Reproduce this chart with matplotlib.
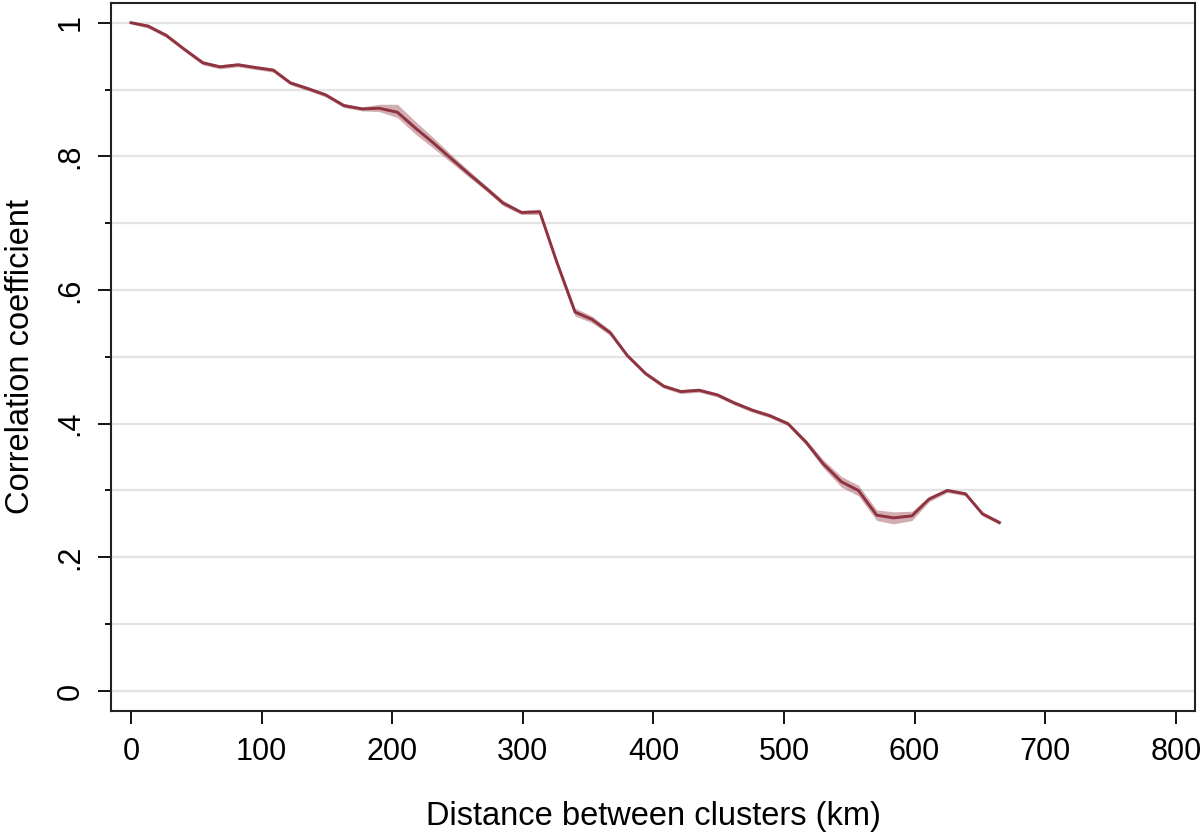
import matplotlib
matplotlib.use("Agg")
import matplotlib.pyplot as plt
from matplotlib.ticker import MultipleLocator, FuncFormatter

plt.rcParams['font.family'] = ['Liberation Sans', 'DejaVu Sans']

# distance bins (km) and correlation coefficient
distance = [0, 13, 27, 41, 55, 68, 82, 95, 109, 122, 136, 149, 163, 177, 190,
            204, 218, 231, 245, 258, 272, 285, 299, 313, 326, 340, 353, 367,
            380, 394, 408, 421, 435, 449, 462, 476, 489, 503, 517, 530, 544,
            557, 571, 584, 598, 611, 625, 639, 652, 665]
corr = [1.000, 0.995, 0.981, 0.960, 0.940, 0.934, 0.937, 0.933, 0.929, 0.910,
        0.901, 0.892, 0.876, 0.871, 0.872, 0.866, 0.842, 0.821, 0.797, 0.775,
        0.752, 0.730, 0.716, 0.717, 0.642, 0.567, 0.556, 0.536, 0.502, 0.475,
        0.456, 0.448, 0.450, 0.443, 0.431, 0.420, 0.412, 0.400, 0.372, 0.340,
        0.313, 0.300, 0.263, 0.259, 0.262, 0.287, 0.300, 0.295, 0.265, 0.252]
# confidence band
ci_lo = [0.998, 0.992, 0.978, 0.957, 0.937, 0.931, 0.934, 0.930, 0.926, 0.907,
         0.898, 0.889, 0.873, 0.868, 0.867, 0.858, 0.833, 0.813, 0.791, 0.770,
         0.748, 0.726, 0.713, 0.713, 0.637, 0.561, 0.551, 0.532, 0.499, 0.472,
         0.453, 0.445, 0.447, 0.440, 0.428, 0.417, 0.409, 0.397, 0.368, 0.334,
         0.305, 0.292, 0.255, 0.250, 0.255, 0.283, 0.297, 0.292, 0.262, 0.249]
ci_hi = [1.002, 0.998, 0.984, 0.963, 0.943, 0.937, 0.940, 0.936, 0.932, 0.913,
         0.904, 0.895, 0.879, 0.874, 0.878, 0.878, 0.852, 0.829, 0.803, 0.780,
         0.756, 0.734, 0.719, 0.721, 0.647, 0.573, 0.561, 0.540, 0.505, 0.478,
         0.459, 0.451, 0.453, 0.446, 0.434, 0.423, 0.415, 0.403, 0.376, 0.346,
         0.321, 0.308, 0.271, 0.268, 0.269, 0.291, 0.303, 0.298, 0.268, 0.255]

farge = '#8f3340'

fig = plt.figure(figsize=(12.04, 8.35), dpi=100)
ax = fig.add_axes([0.0922, 0.1485, 0.9003, 0.8483])

ax.fill_between(distance, ci_lo, ci_hi, color=farge, alpha=0.4, linewidth=0)
ax.plot(distance, corr, color=farge, linewidth=2.1)

ax.set_xlim(-15.3, 814.7)
ax.set_ylim(-0.03, 1.03)
ax.xaxis.set_major_locator(MultipleLocator(100))
ax.yaxis.set_major_locator(MultipleLocator(0.2))
ax.yaxis.set_minor_locator(MultipleLocator(0.1))

def ylab(v, pos):
    if abs(v) < 1e-9:
        return '0'
    if abs(v - 1) < 1e-9:
        return '1'
    return ('%.1f' % v).lstrip('0')

ax.yaxis.set_major_formatter(FuncFormatter(ylab))

ax.grid(True, which='both', axis='y', color='#e3e3e3', linewidth=1.6)
ax.set_axisbelow(True)

for s in ax.spines.values():
    s.set_linewidth(1.5)
    s.set_color('#222222')

ax.tick_params(axis='both', which='major', length=9.5, width=1.3, labelsize=22, pad=9)
ax.tick_params(axis='y', which='minor', length=4.5, width=1.3)
for lbl in ax.get_yticklabels():
    lbl.set_rotation(90)
    lbl.set_va('center')

ax.set_xlabel('Distance between clusters (km)', fontsize=23.5, labelpad=25)
ax.set_ylabel('Correlation coefficient', fontsize=23.5, labelpad=14)

fig.savefig('out.png', dpi=100)
